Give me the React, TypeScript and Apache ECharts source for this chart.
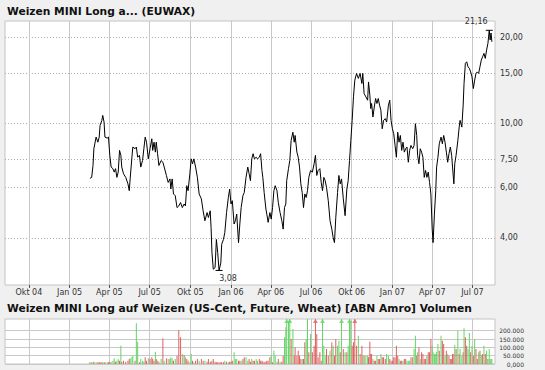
import { useEffect, useRef } from 'react';
import * as echarts from 'echarts';

// ---- price series ----
const priceDates: string[] = [
  '2005-02-16', '2005-02-20', '2005-02-23', '2005-02-25',
  '2005-03-02', '2005-03-06', '2005-03-09', '2005-03-11', '2005-03-15', '2005-03-17', '2005-03-20', '2005-03-22', '2005-03-27', '2005-03-30',
  '2005-04-02', '2005-04-05', '2005-04-09', '2005-04-12', '2005-04-15', '2005-04-18', '2005-04-21', '2005-04-24', '2005-04-27', '2005-04-29',
  '2005-05-03', '2005-05-08', '2005-05-13', '2005-05-16', '2005-05-18', '2005-05-22', '2005-05-24', '2005-05-29',
  '2005-06-01', '2005-06-04', '2005-06-08', '2005-06-11', '2005-06-15', '2005-06-18', '2005-06-21', '2005-06-24', '2005-06-28',
  '2005-07-02', '2005-07-06', '2005-07-08', '2005-07-11', '2005-07-14', '2005-07-16', '2005-07-19', '2005-07-22', '2005-07-27', '2005-07-31',
  '2005-08-03', '2005-08-08', '2005-08-12', '2005-08-16', '2005-08-18', '2005-08-21', '2005-08-24', '2005-08-28',
  '2005-09-01', '2005-09-05', '2005-09-09', '2005-09-13', '2005-09-17', '2005-09-20', '2005-09-23', '2005-09-26', '2005-09-30',
  '2005-10-03', '2005-10-06', '2005-10-09', '2005-10-13', '2005-10-17', '2005-10-21', '2005-10-26', '2005-10-30',
  '2005-11-03', '2005-11-08', '2005-11-11', '2005-11-15', '2005-11-17', '2005-11-19', '2005-11-22', '2005-11-26', '2005-11-29',
  '2005-12-02', '2005-12-05', '2005-12-09', '2005-12-11', '2005-12-15', '2005-12-18', '2005-12-22', '2005-12-26', '2005-12-29',
  '2006-01-01', '2006-01-04', '2006-01-08', '2006-01-11', '2006-01-14', '2006-01-18', '2006-01-21', '2006-01-24', '2006-01-28', '2006-01-31',
  '2006-02-04', '2006-02-08', '2006-02-11', '2006-02-14', '2006-02-17', '2006-02-20', '2006-02-23', '2006-02-27',
  '2006-03-02', '2006-03-06', '2006-03-09', '2006-03-12', '2006-03-14', '2006-03-17', '2006-03-21', '2006-03-23', '2006-03-26', '2006-03-30',
  '2006-04-02', '2006-04-05', '2006-04-08', '2006-04-11', '2006-04-15', '2006-04-18', '2006-04-22', '2006-04-26', '2006-04-29',
  '2006-05-02', '2006-05-05', '2006-05-07', '2006-05-11', '2006-05-14', '2006-05-17', '2006-05-21', '2006-05-24', '2006-05-26', '2006-05-30',
  '2006-06-02', '2006-06-05', '2006-06-08', '2006-06-11', '2006-06-14', '2006-06-17', '2006-06-20', '2006-06-23', '2006-06-26', '2006-06-30',
  '2006-07-04', '2006-07-08', '2006-07-11', '2006-07-14', '2006-07-17', '2006-07-21', '2006-07-24', '2006-07-27', '2006-07-30',
  '2006-08-02', '2006-08-05', '2006-08-09', '2006-08-13', '2006-08-17', '2006-08-20', '2006-08-23', '2006-08-26', '2006-08-30',
  '2006-09-02', '2006-09-05', '2006-09-08', '2006-09-12', '2006-09-16', '2006-09-20', '2006-09-23', '2006-09-26', '2006-09-29',
  '2006-10-02', '2006-10-05', '2006-10-08', '2006-10-12', '2006-10-16', '2006-10-20', '2006-10-24', '2006-10-26', '2006-10-29',
  '2006-11-02', '2006-11-06', '2006-11-08', '2006-11-11', '2006-11-13', '2006-11-15', '2006-11-18', '2006-11-21', '2006-11-24', '2006-11-27', '2006-11-30',
  '2006-12-03', '2006-12-06', '2006-12-09', '2006-12-12', '2006-12-16', '2006-12-19', '2006-12-23', '2006-12-26', '2006-12-29',
  '2007-01-01', '2007-01-04', '2007-01-07', '2007-01-10', '2007-01-13', '2007-01-16', '2007-01-19', '2007-01-22', '2007-01-25', '2007-01-28', '2007-01-31',
  '2007-02-03', '2007-02-06', '2007-02-09', '2007-02-12', '2007-02-16', '2007-02-19', '2007-02-22', '2007-02-25', '2007-02-27',
  '2007-03-02', '2007-03-05', '2007-03-08', '2007-03-11', '2007-03-14', '2007-03-17', '2007-03-20', '2007-03-23', '2007-03-26', '2007-03-29',
  '2007-04-01', '2007-04-03', '2007-04-06', '2007-04-09', '2007-04-11', '2007-04-14', '2007-04-17', '2007-04-21', '2007-04-24', '2007-04-27', '2007-04-30',
  '2007-05-03', '2007-05-06', '2007-05-09', '2007-05-12', '2007-05-15', '2007-05-17', '2007-05-20', '2007-05-22', '2007-05-25', '2007-05-29',
  '2007-06-01', '2007-06-03', '2007-06-07', '2007-06-10', '2007-06-12', '2007-06-15', '2007-06-18', '2007-06-21', '2007-06-24', '2007-06-27', '2007-06-30',
  '2007-07-03', '2007-07-06', '2007-07-09', '2007-07-12', '2007-07-15', '2007-07-18', '2007-07-21', '2007-07-24', '2007-07-27', '2007-07-30',
  '2007-08-02', '2007-08-05', '2007-08-08', '2007-08-10', '2007-08-12', '2007-08-14',
];

const prices: number[] = [
  6.45, 6.50, 7.15, 8.18, 8.98, 8.62, 8.98, 9.86, 10.27, 10.69,
  10.13, 8.98, 8.91, 8.98, 7.76, 7.06, 6.97, 6.78, 6.97, 6.50,
  6.78, 8.07, 7.76, 7.06, 6.69, 6.50, 6.17, 5.84, 6.42, 7.64,
  8.29, 8.18, 8.29, 7.64, 7.76, 7.06, 7.44, 8.18, 8.98, 8.62,
  7.54, 8.18, 8.86, 8.07, 8.62, 7.96, 8.62, 7.86, 7.15, 7.44,
  7.34, 7.06, 6.60, 6.24, 6.42, 5.92, 6.42, 5.69, 5.61, 5.10,
  5.17, 5.31, 5.10, 5.25, 5.17, 6.08, 5.84, 6.69, 7.54, 7.25,
  7.54, 7.06, 6.50, 5.69, 5.47, 4.97, 4.59, 4.90, 4.71, 4.97,
  4.34, 3.55, 3.11, 3.15, 3.95, 3.55, 3.08, 3.27, 3.80, 3.95,
  4.17, 4.90, 5.53, 5.92, 5.25, 5.39, 4.47, 4.59, 4.84, 3.85,
  4.47, 5.10, 5.61, 5.76, 6.50, 7.06, 6.69, 6.33, 7.54, 7.86,
  7.54, 7.64, 7.54, 7.64, 7.86, 6.87, 6.50, 5.76, 5.04, 4.84,
  4.53, 4.90, 4.65, 5.10, 5.84, 6.08, 5.84, 5.31, 4.90, 4.59,
  4.29, 5.10, 5.25, 6.33, 6.97, 7.44, 8.74, 9.34, 8.62, 9.10,
  7.96, 7.64, 7.06, 6.17, 5.76, 5.10, 5.69, 5.53, 5.84, 6.50,
  6.87, 6.78, 7.25, 7.76, 6.60, 6.87, 6.97, 6.24, 5.84, 6.50,
  6.33, 6.00, 5.39, 4.59, 4.29, 4.01, 3.85, 4.71, 5.76, 6.60,
  6.17, 6.42, 5.47, 4.78, 5.92, 6.33, 7.44, 8.74, 10.27, 12.40,
  14.18, 14.97, 14.38, 14.97, 13.81, 14.97, 12.74, 12.40, 12.07, 13.98,
  12.57, 11.29, 11.76, 10.55, 11.43, 12.24, 11.76, 12.24, 11.60, 11.13,
  9.60, 10.27, 10.41, 10.13, 11.60, 12.07, 10.27, 9.60, 9.22, 8.40,
  7.64, 9.34, 8.62, 9.10, 8.07, 8.62, 7.96, 8.18, 8.29, 7.34,
  8.07, 8.40, 8.18, 8.40, 10.00, 9.10, 7.76, 7.25, 8.18, 7.96,
  7.64, 6.50, 6.87, 6.50, 6.78, 6.24, 5.69, 4.29, 3.85, 4.84,
  5.84, 7.06, 7.64, 8.51, 8.98, 8.51, 9.10, 8.62, 7.96, 7.34,
  7.86, 8.29, 7.76, 7.06, 6.17, 7.25, 7.76, 8.74, 9.73, 10.27,
  9.73, 11.60, 13.81, 16.23, 16.43, 15.79, 15.59, 15.15, 14.56, 13.26,
  14.18, 14.97, 15.15, 14.97, 15.79, 16.66, 17.11, 17.58, 16.89, 18.05,
  19.06, 21.16, 19.57, 20.71, 19.30,
];

// ---- volume (thousands), one per price date; 300 = bar runs past the top ----
const volumesK: number[] = [
  10, 10, 10, 14, 10, 10, 10, 10, 10, 10,
  10, 10, 10, 10, 10, 14, 20, 34, 14, 20,
  30, 20, 110, 14, 20, 14, 20, 30, 34, 40,
  50, 20, 244, 134, 10, 30, 20, 14, 40, 20,
  34, 30, 40, 30, 20, 74, 30, 20, 14, 30,
  154, 20, 34, 30, 30, 40, 34, 20, 30, 50,
  204, 160, 60, 54, 40, 30, 20, 10, 60, 20,
  10, 20, 30, 20, 30, 20, 20, 14, 30, 14,
  14, 20, 30, 14, 10, 10, 10, 10, 10, 10,
  20, 14, 10, 14, 14, 20, 70, 30, 30, 20,
  20, 20, 30, 40, 40, 20, 30, 14, 30, 20,
  20, 30, 20, 30, 20, 20, 14, 14, 14, 20,
  20, 40, 54, 10, 80, 50, 14, 30, 14, 14,
  50, 160, 220, 300, 260, 300, 150, 210, 50, 100,
  50, 80, 50, 30, 30, 30, 130, 150, 270, 70,
  180, 70, 110, 300, 180, 40, 70, 20, 300, 110,
  50, 90, 50, 80, 130, 110, 50, 150, 110, 140,
  70, 300, 90, 70, 70, 110, 300, 260, 110, 130,
  300, 110, 170, 60, 110, 50, 50, 50, 50, 40,
  134, 60, 60, 30, 20, 20, 50, 30, 30, 60,
  40, 40, 30, 60, 50, 30, 20, 20, 40, 40,
  110, 50, 30, 20, 20, 20, 30, 30, 20, 20,
  20, 40, 40, 90, 170, 50, 70, 100, 30, 70,
  60, 30, 30, 50, 70, 70, 150, 110, 70, 60,
  60, 74, 120, 80, 170, 140, 120, 50, 80, 60,
  50, 30, 30, 60, 60, 114, 90, 200, 60, 90,
  50, 70, 214, 160, 110, 90, 186, 70, 110, 50,
  150, 90, 30, 70, 80, 54, 60, 110, 60, 80,
  30, 90, 30, 30, 30,
];

// g = green (up), r = red (down)
const volumeDir: string =
  'rggrgrrrrg' + 'grgrrgggrg' + 'grgrrrrrgg' + 'grggrgggrr' + 'grrrrgrgrg' +
  'rgrgrggrgr' + 'rrgrgrrggr' + 'grrgrrgrrr' + 'rgrrrrrrrr' + 'grgrrrgggr' +
  'rgrrggrrgr' + 'rggrrrrrrr' + 'rrgrgggrgr' + 'rgggggrgrr' + 'rrrrgrrggr' +
  'grrrrrrrgg' + 'grrgrgrrgg' + 'rgrgrgggrr' + 'rrgrrgrggr' + 'rrrgrrgrrg' +
  'rrrggrrrrr' + 'rrgrrgrrgg' + 'grrggrgrgr' + 'rrrgrrrggg' + 'gggrgrrgrg' +
  'rrrrrgrgrg' + 'grgrrggrgr' + 'grrgrgrgrg' + 'rgggg';

// ---- axes ----
const quarterDates = [
  '2004-10-01', '2005-01-01', '2005-04-01', '2005-07-01', '2005-10-01', '2006-01-01',
  '2006-04-01', '2006-07-01', '2006-10-01', '2007-01-01', '2007-04-01', '2007-07-01',
];
const quarterLabels = [
  'Okt 04', 'Jan 05', 'Apr 05', 'Jul 05', 'Okt 05', 'Jan 06',
  'Apr 06', 'Jul 06', 'Okt 06', 'Jan 07', 'Apr 07', 'Jul 07',
];
const priceTicks = [4, 6, 7.5, 10, 15, 20];
const volumeTicks = [0, 50000, 100000, 150000, 200000];
const volumeTickLabels = ['0,000', '50.000', '100.000', '150.000', '200.000'];

const X_MIN = '2004-08-08';
const X_MAX = '2007-08-21';
const Y_MIN = 2.74;
const Y_MAX = 22.8;
const VOL_MAX = 270000;

const GREEN = '#66d466';
const RED = '#e06060';
const FONT = 'DejaVu Sans';

export default function App() {
  const ref = useRef<HTMLDivElement>(null);

  useEffect(() => {
    if (!ref.current) return;
    const chart = echarts.init(ref.current, null, { renderer: 'svg' });
    const t = (d: string) => +echarts.time.parse(d);
    const quarterTimes = quarterDates.map(t);
    const quarterLabelOf = (v: number) => {
      let best = 0;
      let bestDiff = Infinity;
      quarterTimes.forEach((q, i) => {
        const diff = Math.abs(q - v);
        if (diff < bestDiff) { bestDiff = diff; best = i; }
      });
      return quarterLabels[best];
    };
    const fmtPrice = (v: number) => v.toFixed(2).replace('.', ',');
    const xMin = t(X_MIN);
    const xMax = t(X_MAX);

    const lineData = priceDates.map((d, i) => [t(d), prices[i]]);
    const volData = priceDates.map((d, i) => ({
      value: [t(d), volumesK[i] * 1000],
      itemStyle: { color: volumeDir[i] === 'g' ? GREEN : RED },
    }));
    const arrowData = priceDates
      .map((d, i) => ({ d, i }))
      .filter(({ i }) => volumesK[i] * 1000 > VOL_MAX)
      .map(({ d, i }) => ({
        value: [t(d), VOL_MAX],
        itemStyle: { color: volumeDir[i] === 'g' ? GREEN : RED },
      }));

    const gridLine = { show: true, lineStyle: { color: '#c8c8c8', width: 1, type: 'solid' } };
    const titleStyle = { fontSize: 10.7, fontWeight: 'bold', color: '#111', fontFamily: FONT };

    chart.setOption({
      animation: false,
      backgroundColor: '#f0f0f0',
      textStyle: { fontFamily: FONT },
      title: [
        { text: 'Weizen MINI Long a... (EUWAX)', left: 7, top: 6, padding: 0, textStyle: titleStyle },
        {
          text: 'Weizen MINI Long auf Weizen (US-Cent, Future, Wheat) [ABN Amro] Volumen',
          left: 7, top: 303, padding: 0, textStyle: titleStyle,
        },
      ],
      grid: [
        { left: 5, top: 21, width: 490, height: 264, show: true, backgroundColor: '#ffffff', borderColor: '#c4c4c4', borderWidth: 1 },
        { left: 5, top: 319, width: 490, height: 45, show: true, backgroundColor: '#ffffff', borderColor: '#c4c4c4', borderWidth: 1 },
      ],
      xAxis: [
        {
          type: 'value', gridIndex: 0, min: xMin, max: xMax,
          axisLine: { show: false },
          axisTick: { show: true, customValues: quarterTimes, length: 3, lineStyle: { color: '#555' } },
          axisLabel: {
            customValues: quarterTimes, formatter: (v: number) => quarterLabelOf(v),
            fontSize: 8, color: '#333', margin: 3, fontFamily: FONT,
          },
          splitLine: gridLine,
        },
        {
          type: 'value', gridIndex: 1, min: xMin, max: xMax,
          axisLine: { show: false },
          axisTick: { show: false, customValues: quarterTimes },
          axisLabel: { show: false, customValues: quarterTimes },
          splitLine: gridLine,
        },
      ],
      yAxis: [
        {
          type: 'log', logBase: 10, gridIndex: 0, position: 'right', min: Y_MIN, max: Y_MAX,
          axisLine: { show: false },
          axisTick: { show: false, customValues: priceTicks },
          axisLabel: {
            customValues: priceTicks, formatter: (v: number) => fmtPrice(v),
            fontSize: 8, color: '#333', margin: 5, fontFamily: FONT,
          },
          splitLine: { show: true, lineStyle: { color: '#aaaaaa', width: 1, type: [1, 2] } },
        },
        {
          type: 'value', gridIndex: 1, position: 'right', min: 0, max: VOL_MAX,
          axisLine: { show: false },
          axisTick: { show: false, customValues: volumeTicks },
          axisLabel: {
            customValues: volumeTicks,
            formatter: (v: number) => volumeTickLabels[volumeTicks.indexOf(v)] ?? '',
            fontSize: 6, color: '#333', margin: 29, align: 'right', fontFamily: FONT,
          },
          splitLine: gridLine,
        },
      ],
      series: [
        {
          type: 'line', xAxisIndex: 0, yAxisIndex: 0, data: lineData,
          showSymbol: false, symbol: 'none',
          lineStyle: { color: '#000', width: 1 },
          markPoint: {
            symbol: 'rect', symbolSize: [7, 1],
            itemStyle: { color: '#000' },
            label: { fontSize: 8, color: '#333', fontFamily: FONT, formatter: (p: any) => fmtPrice(p.value) },
            data: [
              { type: 'max', label: { position: 'top', offset: [-13, 1] } },
              { type: 'min', label: { position: 'bottom', offset: [9, -1] } },
            ],
          },
        },
        {
          type: 'bar', xAxisIndex: 1, yAxisIndex: 1, data: volData,
          barWidth: 1, clip: true,
        },
        {
          type: 'scatter', xAxisIndex: 1, yAxisIndex: 1, data: arrowData,
          symbol: 'triangle', symbolSize: [5, 4], symbolOffset: [0, 2],
        },
      ],
    });
    return () => chart.dispose();
  }, []);

  return (
    <div
      ref={ref}
      style={{ position: 'fixed', left: 0, top: 0, width: 545, height: 370 }}
    />
  );
}
